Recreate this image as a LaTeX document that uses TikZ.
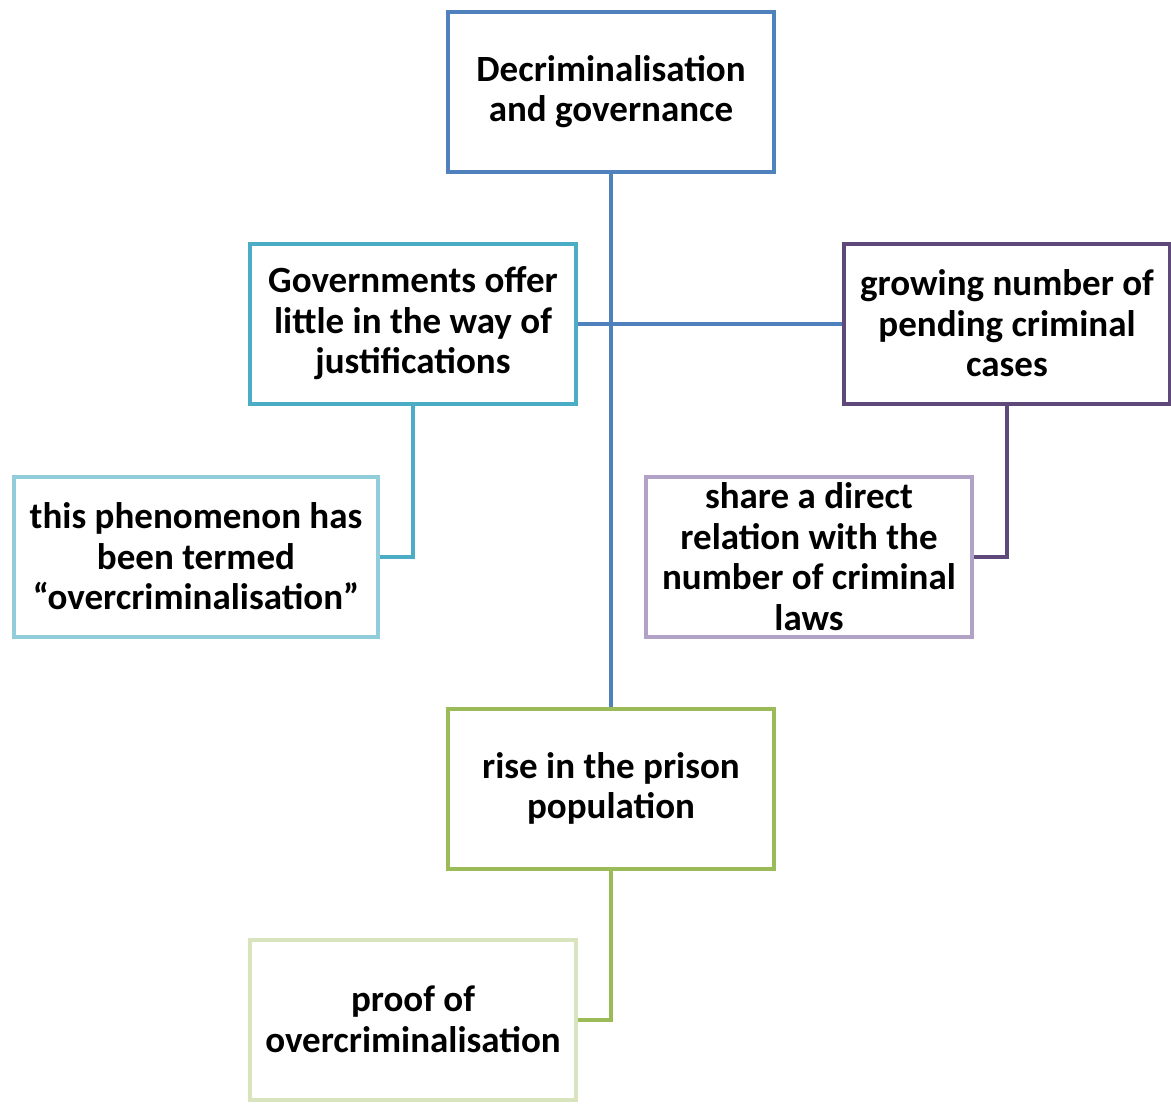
\documentclass[tikz,border=0pt]{standalone}
\usepackage{fontspec}
\setmainfont{Carlito}
\usetikzlibrary{positioning}

\definecolor{topblue}{HTML}{4F81BD}
\definecolor{govteal}{HTML}{4BACC6}
\definecolor{lightteal}{HTML}{92CDDC}
\definecolor{casepurple}{HTML}{5F497A}
\definecolor{lightpurple}{HTML}{B2A2C7}
\definecolor{prisongreen}{HTML}{9BBB59}
\definecolor{lightgreen}{HTML}{D7E4BD}

\begin{document}
\begin{tikzpicture}[
    x=0.5pt, y=-0.5pt,
    every node/.style={
        align=center,
        fill=white,
        line width=2pt,
        inner sep=0pt,
        minimum width=163pt,
        minimum height=80pt,
        font=\fontsize{18.5pt}{20.3pt}\selectfont\bfseries
    },
    box/.style={draw=#1},
    link/.style={line width=2pt, draw=#1}
]
\useasboundingbox (0,0) rectangle (1171,1104);

% ------------------------
% Top of the tree
% ------------------------
\node (decrim) [box=topblue] at (611,91.5) {
Decriminalisation\\
and governance
};

% ------------------------
% Second level
% ------------------------
\node (govts) [box=govteal] at (413,323.5) {
Governments offer\\
little in the way of\\
justifications
};

\node (pending) [box=casepurple] at (1007,323.5) {
growing number of\\
pending criminal\\
cases
};

% ------------------------
% Third level
% ------------------------
\node (termed) [box=lightteal, minimum width=182pt] at (196,556.5) {
this phenomenon has\\
been termed\\
``overcriminalisation''
};

\node (relation) [box=lightpurple] at (809,556.5) {
share a direct\\
relation with the\\
number of criminal\\
laws
};

% ------------------------
% Bottom of the tree
% ------------------------
\node (prison) [box=prisongreen] at (611,788.5) {
rise in the prison\\
population
};

\node (proof) [box=lightgreen] at (413,1019.5) {
proof of\\
overcriminalisation
};

% ------------------------
% Connectors
% ------------------------
\draw[link=topblue] (decrim) -- (prison);
\draw[link=topblue] (govts.east) -- (pending.west);
\draw[link=govteal] (govts.south) |- (termed.east);
\draw[link=casepurple] (pending.south) |- (relation.east);
\draw[link=prisongreen] (prison.south) |- (proof.east);

\end{tikzpicture}
\end{document}
